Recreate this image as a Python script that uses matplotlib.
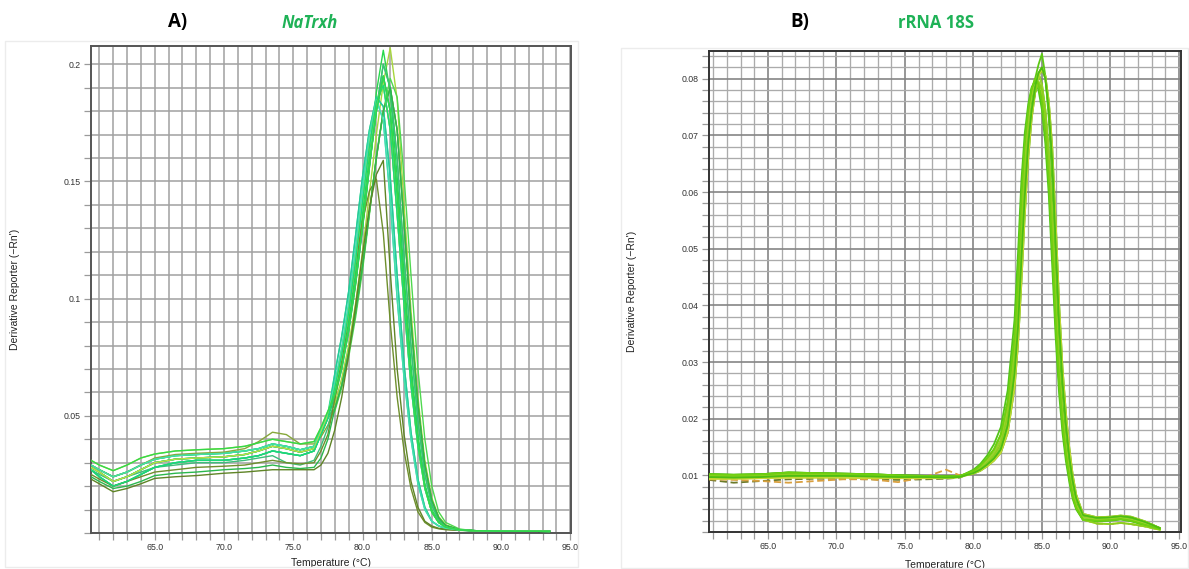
import matplotlib
matplotlib.use("Agg")
import matplotlib.pyplot as plt
from matplotlib.ticker import MultipleLocator, FixedLocator, FuncFormatter
from matplotlib.patches import Rectangle

# ---------------- Panel A: NaTrxh melt curves ----------------
temp_a_base = [60.4, 61.0, 62.0, 63.0, 64.0, 65.0, 66.5, 68.0, 70.0, 71.5,
               72.5, 73.5, 74.5, 75.5, 76.5, 77.0, 77.5]
temp_a_melt = [78.0, 78.5, 79.0, 79.5, 80.0, 80.5, 81.0, 81.5, 82.0, 82.5,
               83.0, 83.5, 84.0, 84.5, 85.0, 85.5, 86.0, 87.0, 88.0, 90.0, 93.5]

# pre-melt baselines (derivative reporter, -Rn')
base_high = [0.031, 0.029, 0.0266, 0.029, 0.032, 0.0337, 0.035, 0.0355, 0.036, 0.037,
             0.0385, 0.040, 0.039, 0.038, 0.039, 0.045, 0.052]
base_upper = [0.029, 0.027, 0.024, 0.026, 0.029, 0.0315, 0.033, 0.0335, 0.034, 0.035,
              0.036, 0.038, 0.037, 0.0355, 0.037, 0.044, 0.051]
base_mid = [0.028, 0.026, 0.022, 0.024, 0.027, 0.030, 0.0315, 0.032, 0.0325, 0.0335,
            0.035, 0.037, 0.036, 0.0345, 0.036, 0.043, 0.050]
base_lower = [0.027, 0.024, 0.020, 0.022, 0.025, 0.028, 0.030, 0.031, 0.031, 0.032,
              0.033, 0.035, 0.034, 0.033, 0.035, 0.042, 0.049]
base_bump = [0.029, 0.027, 0.024, 0.026, 0.029, 0.032, 0.0335, 0.034, 0.0345, 0.036,
             0.039, 0.043, 0.042, 0.038, 0.038, 0.041, 0.046]
base_dip = [0.027, 0.025, 0.022, 0.024, 0.026, 0.028, 0.029, 0.030, 0.030, 0.031,
            0.032, 0.033, 0.030, 0.029, 0.031, 0.037, 0.045]
base_low = [0.025, 0.023, 0.020, 0.022, 0.024, 0.026, 0.027, 0.028, 0.0285, 0.029,
            0.030, 0.031, 0.030, 0.0295, 0.030, 0.035, 0.042]
base_lower2 = [0.024, 0.022, 0.019, 0.020, 0.022, 0.0245, 0.0255, 0.026, 0.027, 0.0275,
               0.028, 0.029, 0.028, 0.0275, 0.028, 0.032, 0.040]
base_lowest = [0.023, 0.021, 0.0176, 0.019, 0.021, 0.0233, 0.024, 0.0245, 0.0255, 0.026,
               0.0265, 0.027, 0.027, 0.027, 0.027, 0.029, 0.034]

# melt peaks
melt_earliest = [0.068, 0.084, 0.103, 0.127, 0.152, 0.172, 0.186, 0.182, 0.152, 0.110,
                 0.072, 0.043, 0.023, 0.011, 0.005, 0.003, 0.002, 0.0012, 0.001, 0.0008, 0.0007]
melt_early = [0.064, 0.079, 0.098, 0.121, 0.147, 0.170, 0.185, 0.176, 0.142, 0.100,
              0.066, 0.040, 0.021, 0.010, 0.005, 0.003, 0.002, 0.0012, 0.001, 0.0008, 0.0007]
melt_mid = [0.059, 0.071, 0.087, 0.107, 0.131, 0.157, 0.180, 0.195, 0.180, 0.145,
            0.104, 0.068, 0.040, 0.020, 0.009, 0.0045, 0.0025, 0.0013, 0.001, 0.0008, 0.0007]
melt_mid_b = [0.058, 0.070, 0.086, 0.106, 0.130, 0.156, 0.181, 0.200, 0.190, 0.160,
              0.118, 0.080, 0.048, 0.025, 0.012, 0.0055, 0.003, 0.0014, 0.001, 0.0008, 0.0007]
melt_mid_c = [0.062, 0.076, 0.094, 0.116, 0.141, 0.165, 0.184, 0.191, 0.172, 0.136,
              0.097, 0.063, 0.037, 0.019, 0.009, 0.0045, 0.0025, 0.0013, 0.001, 0.0008, 0.0007]
melt_mid_high = [0.060, 0.073, 0.090, 0.111, 0.136, 0.162, 0.188, 0.206, 0.188, 0.152,
                 0.110, 0.072, 0.042, 0.021, 0.010, 0.005, 0.0027, 0.0013, 0.001, 0.0008, 0.0007]
melt_late = [0.055, 0.066, 0.080, 0.098, 0.120, 0.145, 0.170, 0.192, 0.207, 0.185,
             0.140, 0.095, 0.058, 0.031, 0.015, 0.007, 0.0035, 0.0015, 0.001, 0.0008, 0.0007]
melt_latest = [0.052, 0.062, 0.075, 0.092, 0.112, 0.136, 0.161, 0.180, 0.194, 0.186,
               0.152, 0.110, 0.070, 0.040, 0.020, 0.009, 0.0045, 0.0017, 0.001, 0.0008, 0.0007]
melt_late_low = [0.053, 0.063, 0.077, 0.094, 0.114, 0.137, 0.160, 0.180, 0.190, 0.172,
                 0.132, 0.090, 0.055, 0.029, 0.014, 0.0065, 0.0032, 0.0014, 0.001, 0.0008, 0.0007]
melt_low_peak = [0.057, 0.073, 0.094, 0.115, 0.133, 0.146, 0.151, 0.128, 0.090, 0.058,
                 0.035, 0.019, 0.009, 0.0045, 0.0025, 0.0018, 0.0014, 0.0011, 0.001, 0.0008, 0.0007]
melt_late_riser = [0.044, 0.058, 0.076, 0.097, 0.119, 0.139, 0.153, 0.159, 0.112, 0.070,
                   0.042, 0.022, 0.011, 0.005, 0.003, 0.002, 0.0016, 0.0012, 0.001, 0.0008, 0.0007]

wells_a = [
    (base_high, melt_late, "#A6D63C"),
    (base_upper, melt_mid_high, "#27D84C"),
    (base_upper, melt_mid, "#16C78E"),
    (base_upper, melt_earliest, "#2FE070"),
    (base_mid, melt_mid_b, "#1FE04A"),
    (base_mid, melt_early, "#3CCFD2"),
    (base_mid, melt_late_low, "#2BC95E"),
    (base_mid, melt_mid_c, "#0FD85A"),
    (base_lower, melt_mid, "#12D066"),
    (base_lower, melt_latest, "#4FD84F"),
    (base_lower, melt_earliest, "#24C9A0"),
    (base_bump, melt_late_low, "#86A83A"),
    (base_dip, melt_mid_b, "#3DBE7A"),
    (base_low, melt_low_peak, "#6E8F2C"),
    (base_lower2, melt_late_low, "#2AB84C"),
    (base_lowest, melt_late_riser, "#5F8426"),
    (base_upper, melt_early, "#45E0A8"),
    (base_mid, melt_mid_c, "#C2DC45"),
    (base_lower, melt_mid_c, "#1BD878"),
    (base_high, melt_mid, "#33D94A"),
]

# ---------------- Panel B: rRNA 18S melt curves ----------------
temp_b_base = [60.7, 62.5, 64.5, 66.5, 68.5, 70.5, 72.5, 74.5, 76.5, 78.0, 79.0]
temp_b_melt = [80.0, 80.5, 81.0, 81.5, 82.0, 82.5, 83.0, 83.25, 83.5, 83.75,
               84.0, 84.25, 84.5, 84.75, 85.0, 85.25, 85.5, 85.75, 86.0, 86.25,
               86.5, 86.75, 87.0, 87.25, 87.5, 88.0, 89.0, 90.0, 90.75, 91.5, 92.5, 93.6]

bb_main = [0.0100, 0.0099, 0.0099, 0.0102, 0.0102, 0.0101, 0.0101, 0.0099, 0.0098, 0.0097, 0.0098]
bb_upper = [0.0102, 0.0101, 0.0102, 0.0105, 0.0104, 0.0103, 0.0102, 0.0100, 0.0099, 0.0098, 0.0099]
bb_low = [0.0097, 0.0096, 0.0097, 0.0099, 0.0099, 0.0099, 0.0098, 0.0097, 0.0097, 0.0096, 0.0097]
bb_yellow = [0.0094, 0.0094, 0.0095, 0.0096, 0.0096, 0.0096, 0.0095, 0.0095, 0.0095, 0.0095, 0.0097]
bb_dark = [0.0092, 0.0087, 0.0090, 0.0093, 0.0094, 0.0094, 0.0093, 0.0092, 0.0093, 0.0094, 0.0096]
bb_orange = [0.0093, 0.0092, 0.0090, 0.0087, 0.0090, 0.0093, 0.0093, 0.0088, 0.0097, 0.0110, 0.0100]

bm_peak = [0.0106, 0.0113, 0.0122, 0.0134, 0.0152, 0.0200, 0.0300, 0.0390, 0.0520, 0.0630,
           0.0710, 0.0765, 0.0800, 0.0825, 0.0844, 0.0805, 0.0730, 0.0620, 0.0450, 0.0320,
           0.0230, 0.0165, 0.0115, 0.0078, 0.0052, 0.0028, 0.0024, 0.0025, 0.0027, 0.0024,
           0.0016, 0.0006]
bm_mid = [0.0107, 0.0115, 0.0126, 0.0140, 0.0162, 0.0215, 0.0325, 0.0425, 0.0560, 0.0660,
          0.0725, 0.0770, 0.0795, 0.0810, 0.0790, 0.0745, 0.0670, 0.0560, 0.0410, 0.0290,
          0.0210, 0.0150, 0.0105, 0.0070, 0.0048, 0.0026, 0.0022, 0.0023, 0.0025, 0.0022,
          0.0015, 0.0006]
bm_late = [0.0104, 0.0110, 0.0119, 0.0130, 0.0146, 0.0188, 0.0280, 0.0360, 0.0480, 0.0595,
           0.0685, 0.0745, 0.0785, 0.0810, 0.0820, 0.0800, 0.0745, 0.0655, 0.0510, 0.0370,
           0.0265, 0.0190, 0.0132, 0.0090, 0.0060, 0.0030, 0.0025, 0.0026, 0.0028, 0.0026,
           0.0018, 0.0007]
bm_latest = [0.0103, 0.0108, 0.0116, 0.0126, 0.0140, 0.0175, 0.0255, 0.0330, 0.0440, 0.0560,
             0.0660, 0.0730, 0.0775, 0.0805, 0.0815, 0.0805, 0.0760, 0.0680, 0.0550, 0.0405,
             0.0290, 0.0210, 0.0148, 0.0100, 0.0066, 0.0032, 0.0026, 0.0027, 0.0029, 0.0027,
             0.0019, 0.0007]
bm_low = [0.0106, 0.0112, 0.0121, 0.0135, 0.0155, 0.0205, 0.0305, 0.0400, 0.0530, 0.0630,
          0.0700, 0.0745, 0.0775, 0.0795, 0.0780, 0.0735, 0.0660, 0.0550, 0.0400, 0.0285,
          0.0205, 0.0145, 0.0100, 0.0068, 0.0045, 0.0022, 0.0015, 0.0014, 0.0016, 0.0014,
          0.0010, 0.0004]
bm_early = [0.0108, 0.0117, 0.0130, 0.0146, 0.0172, 0.0230, 0.0345, 0.0450, 0.0590, 0.0685,
            0.0745, 0.0782, 0.0800, 0.0790, 0.0760, 0.0705, 0.0620, 0.0500, 0.0370, 0.0265,
            0.0190, 0.0135, 0.0095, 0.0062, 0.0042, 0.0022, 0.0020, 0.0021, 0.0023, 0.0020,
            0.0013, 0.0005]
bm_earliest = [0.0110, 0.0120, 0.0135, 0.0155, 0.0185, 0.0250, 0.0375, 0.0490, 0.0620, 0.0705,
               0.0755, 0.0785, 0.0795, 0.0780, 0.0745, 0.0685, 0.0595, 0.0470, 0.0345, 0.0245,
               0.0175, 0.0125, 0.0088, 0.0058, 0.0040, 0.0021, 0.0019, 0.0020, 0.0022, 0.0019,
               0.0012, 0.0005]

wells_b = [
    (bb_dark, bm_low, "#6B7A2A", (0, (4, 2))),
    (bb_orange, bm_late, "#D9A040", (0, (4, 2))),
    (bb_main, bm_peak, "#5CC814", "-"),
    (bb_upper, bm_mid, "#46B80C", "-"),
    (bb_main, bm_late, "#7ED321", "-"),
    (bb_low, bm_early, "#66CC00", "-"),
    (bb_yellow, bm_low, "#D5DC4A", "-"),
    (bb_upper, bm_latest, "#3DAA10", "-"),
    (bb_low, bm_mid, "#9CD22E", "-"),
    (bb_main, bm_earliest, "#52C41A", "-"),
    (bb_yellow, bm_latest, "#C4D834", "-"),
    (bb_main, bm_low, "#8BCF1E", "-"),
    (bb_upper, bm_early, "#6FD010", "-"),
    (bb_low, bm_late, "#4CBE12", "-"),
]

x_ticks = [65, 70, 75, 80, 85, 90, 95]
y_ticks_a = [0.05, 0.1, 0.15, 0.2]
y_tick_labels_a = ["0.05", "0.1", "0.15", "0.2"]
y_ticks_b = [0.01, 0.02, 0.03, 0.04, 0.05, 0.06, 0.07, 0.08]
y_tick_labels_b = ["0.01", "0.02", "0.03", "0.04", "0.05", "0.06", "0.07", "0.08"]

W, H = 1189, 569
fig = plt.figure(figsize=(W / 100, H / 100), dpi=100)
fig.patch.set_facecolor("white")

AX_FONT = "Liberation Sans"


def frac_box(x0, y0, x1, y1):
    return [x0 / W, (H - y1) / H, (x1 - x0) / W, (y1 - y0) / H]


# faint screenshot frames around each panel
for (x0, y0, x1, y1) in [(5, 41, 578, 567), (621, 48, 1188, 568)]:
    fig.patches.append(Rectangle((x0 / W, (H - y1) / H), (x1 - x0) / W, (y1 - y0) / H,
                                 transform=fig.transFigure, fill=False,
                                 edgecolor="#ececec", linewidth=1.0, zorder=0))


def style_axes(ax, xlim, ylim, yticks, ylabels, minor_step, grid_major, grid_minor,
               spine_color):
    ax.set_xlim(*xlim)
    ax.set_ylim(*ylim)
    ax.xaxis.set_major_locator(FixedLocator(x_ticks))
    ax.xaxis.set_minor_locator(MultipleLocator(1.0))
    ax.xaxis.set_major_formatter(FuncFormatter(lambda v, p: f"{v:.1f}"))
    ax.yaxis.set_major_locator(FixedLocator(yticks))
    ax.set_yticklabels(ylabels)
    ax.yaxis.set_minor_locator(MultipleLocator(minor_step))
    ax.grid(True, which="minor", color=grid_minor[0], linewidth=grid_minor[1], zorder=0)
    ax.grid(True, which="major", color=grid_major[0], linewidth=grid_major[1], zorder=0)
    ax.set_axisbelow(True)
    ax.tick_params(which="both", direction="out", length=5, width=0.9,
                   color="#9a9a9a", labelsize=6.3, labelcolor="#333333", pad=2.5)
    for lab in ax.get_xticklabels() + ax.get_yticklabels():
        lab.set_fontfamily(AX_FONT)
    for sp in ax.spines.values():
        sp.set_color(spine_color)
        sp.set_linewidth(1.4)
    ax.set_xlabel("Temperature (\u00b0C)", fontsize=7.5, family=AX_FONT, color="#222222")
    ax.set_ylabel("Derivative Reporter (\u2212Rn')", fontsize=7.5, family=AX_FONT,
                  color="#222222")


# ----- Panel A -----
axA = fig.add_axes(frac_box(91, 46, 571, 533))
for base, melt, color in wells_a:
    axA.plot(temp_a_base + temp_a_melt, base + melt, color=color, linewidth=1.0,
             solid_joinstyle="round", zorder=3)
style_axes(axA, (60.4, 95.05), (0.0, 0.2078), y_ticks_a, y_tick_labels_a, 0.01,
           ("#a0a0a0", 1.1), ("#a0a0a0", 1.1), "#555555")
axA.xaxis.set_label_coords(0.5, -0.052)
axA.yaxis.set_label_coords(-0.148, 0.5)

# ----- Panel B -----
axB = fig.add_axes(frac_box(709, 51, 1181, 532))
for base, melt, color, ls in wells_b:
    axB.plot(temp_b_base + temp_b_melt, base + melt, color=color, linewidth=1.3,
             linestyle=ls, solid_joinstyle="round", zorder=3)
style_axes(axB, (60.7, 95.15), (0.0, 0.0849), y_ticks_b, y_tick_labels_b, 0.002,
           ("#858585", 1.2), ("#ababab", 0.95), "#333333")
axB.xaxis.set_label_coords(0.5, -0.059)
axB.yaxis.set_label_coords(-0.153, 0.5)

# ----- Panel headings -----
green = "#1FB257"
fig.text(178 / W, 1 - 22 / H, "A)", fontsize=13.5, fontweight="bold", family="Open Sans",
         color="black", ha="center", va="center")
fig.text(310 / W, 1 - 23 / H, "NaTrxh", fontsize=12, fontweight="bold", style="italic",
         family="Open Sans", color=green, ha="center", va="center")
fig.text(800 / W, 1 - 22 / H, "B)", fontsize=13.5, fontweight="bold", family="Open Sans",
         color="black", ha="center", va="center")
fig.text(936 / W, 1 - 23 / H, "rRNA 18S", fontsize=12, fontweight="bold",
         family="Open Sans", color=green, ha="center", va="center")

fig.savefig("out.png", dpi=100, facecolor="white")
